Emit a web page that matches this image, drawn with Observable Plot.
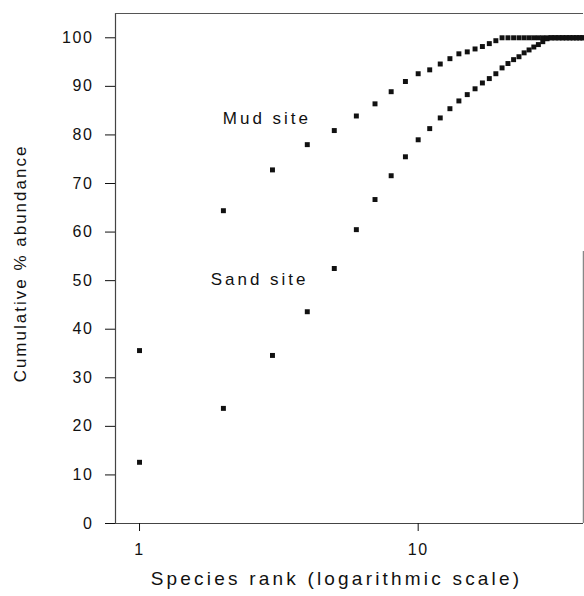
<!DOCTYPE html>
<html>
<head>
<meta charset="utf-8">
<script src="https://cdn.jsdelivr.net/npm/d3@7"></script>
<script src="https://cdn.jsdelivr.net/npm/@observablehq/plot@0.6"></script>
<style>
  html, body { margin: 0; padding: 0; background: #fff; }
  #chart svg { display: block; }
</style>
</head>
<body>
<div id="chart"></div>
<script>
// Cumulative % abundance by species rank
const mudRank = [1,2,3,4,5,6,7,8,9,10,11,12,13,14,15,16,17,18,19,20,21,22,23,24,25,26,27,28,29,30,31,32,33,34,35,36,37,38,39];
const mudValue = [35.6,64.4,72.8,78.0,80.9,83.9,86.4,88.9,91.0,92.6,93.4,94.6,95.7,96.7,97.1,97.7,98.2,98.8,99.4,100,100,100,100,100,100,100,100,100,100,100,100,100,100,100,100,100,100,100,100];
const sandRank = [1,2,3,4,5,6,7,8,9,10,11,12,13,14,15,16,17,18,19,20,21,22,23,24,25,26,27,28,29,30,31,32,33,34,35,36,37,38,39];
const sandValue = [12.6,23.7,34.6,43.6,52.5,60.5,66.7,71.6,75.5,79.0,81.3,83.5,85.4,87.0,88.3,89.5,90.7,91.6,92.6,93.8,94.7,95.5,96.1,96.9,97.5,98.1,98.6,99.2,99.8,100,100,100,100,100,100,100,100,100,100];
const siteLabels = [
  {name: "Mud site", rank: 1.99, value: 83.3},
  {name: "Sand site", rank: 1.8, value: 50.2}
];
const xTicks = [1, 10];
const yTicks = [0,10,20,30,40,50,60,70,80,90,100];
const xTitle = "Species rank (logarithmic scale)";
const yTitle = "Cumulative % abundance";
const xDomain = [0.82, 39.2];
const yDomain = [0, 105];

const points = [
  ...mudRank.map((r, i) => ({site: "Mud", rank: r, value: mudValue[i]})),
  ...sandRank.map((r, i) => ({site: "Sand", rank: r, value: sandValue[i]}))
];

const font = "'Liberation Sans', 'DejaVu Sans', sans-serif";

const chart = Plot.plot({
  width: 584,
  height: 596,
  marginLeft: 115,
  marginRight: 1,
  marginTop: 13,
  marginBottom: 73,
  style: {fontFamily: font, fontSize: "16px", color: "#111", background: "#fff"},
  x: {type: "log", domain: xDomain, ticks: xTicks, tickFormat: d => String(d)},
  y: {domain: yDomain, ticks: yTicks},
  marks: [
    Plot.ruleX([xDomain[0]], {stroke: "#444", strokeWidth: 1.2}),
    Plot.ruleY([yDomain[0]], {stroke: "#444", strokeWidth: 1.2}),
    Plot.ruleY([yDomain[1]], {stroke: "#555", strokeWidth: 1.2}),
    Plot.ruleX([xDomain[1]], {y1: 0, y2: 56, stroke: "#888", strokeWidth: 1.5}),
    Plot.axisY({ticks: yTicks, tickSize: 10, tickPadding: 12, fontSize: 16, label: null}),
    Plot.axisX({ticks: xTicks, tickSize: 8, tickPadding: 12, fontSize: 16, tickFormat: d => String(d), label: null}),
    Plot.text([xTitle], {text: d => d, frameAnchor: "bottom", dy: 61, dx: -13, fontSize: 19, fill: "#111", className: "ttl"}),
    Plot.text([yTitle], {text: d => d, frameAnchor: "left", textAnchor: "middle", dx: -95, dy: -5, rotate: -90, fontSize: 17, fill: "#111", className: "ttly"}),
    Plot.dot(points, {x: "rank", y: "value", symbol: "square", r: 2.8, fill: "#111", stroke: "none"}),
    Plot.text(siteLabels, {x: "rank", y: "value", text: "name", textAnchor: "start", fontSize: 17, fill: "#111", className: "site"})
  ]
});

chart.querySelectorAll("text").forEach(t => t.style.letterSpacing = "1.6px");
chart.querySelectorAll(".ttl text").forEach(t => t.style.letterSpacing = "3.2px");
chart.querySelectorAll(".ttly text").forEach(t => t.style.letterSpacing = "2px");
chart.querySelectorAll(".site text").forEach(t => t.style.letterSpacing = "3px");
document.getElementById("chart").appendChild(chart);
</script>
</body>
</html>
